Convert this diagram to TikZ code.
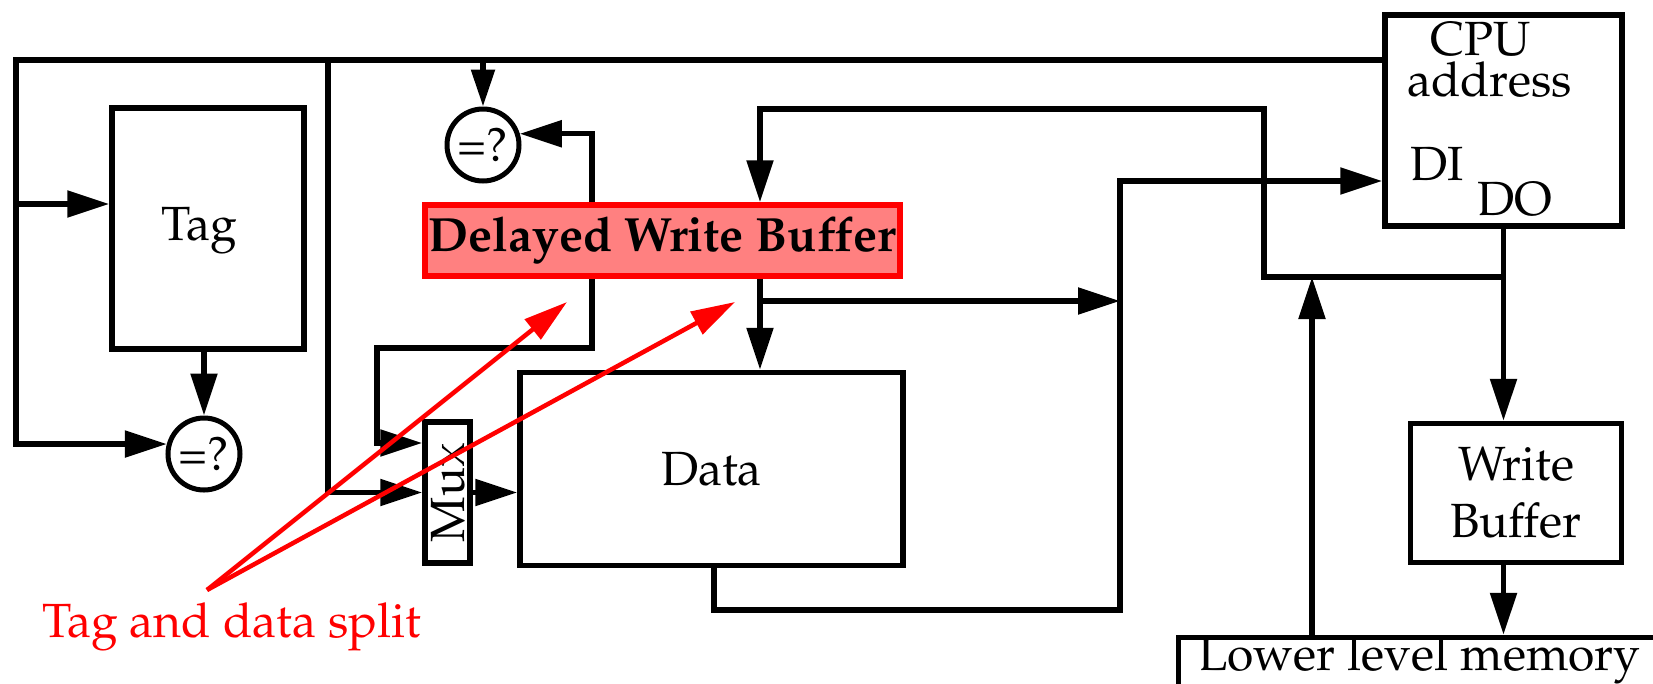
\documentclass[tikz,border=0pt]{standalone}
\usepackage[T1]{fontenc}
\usepackage{mathpazo}
\usepackage{graphicx}
\usetikzlibrary{arrows.meta}
\definecolor{bufpink}{HTML}{FF8080}
\definecolor{markred}{HTML}{FF0000}
\tikzset{
  wire/.style={line width=5.5pt, line join=miter},
  arr/.style={-{Triangle[length=42pt,width=26pt]}},
  blk/.style={draw, line width=5.5pt, inner sep=0pt},
  cmp/.style={draw, circle, line width=5pt, minimum size=72pt, inner sep=0pt},
  txt/.style={inner sep=0pt, anchor=base west},
  note/.style={draw=markred, line width=4.5pt, -{Triangle[length=44pt,width=25pt]}},
}
\begin{document}
\begin{tikzpicture}[x=1pt, y=-1pt, every node/.style={font=\fontsize{48}{57}\selectfont}]
\useasboundingbox (0,0) rectangle (1653,683);
\clip (0,0) rectangle (1653,683);

% blocks
\node[blk, minimum width=192pt, minimum height=241pt] (Tag) at (208,228.5) {};
\node[txt] (tagtext) at (161,240) {Tag};
\node[cmp] (c1) at (204,454) {=?};
\node[cmp] (c2) at (483,145) {=?};
\node[blk, draw=markred, fill=bufpink, minimum width=475pt, minimum height=71pt,
      font=\fontsize{48}{57}\selectfont\bfseries] (DWB) at (662.5,240.5) {Delayed Write Buffer};
\node[blk, minimum width=45pt, minimum height=141pt] (Mux) at (447.5,492.5) {\rotatebox{90}{Mux}};
\node[blk, minimum width=383pt, minimum height=193pt] (Data) at (711.5,469) {Data};
\node[blk, minimum width=237pt, minimum height=211pt] (CPU) at (1503.5,120.5) {};
\node[txt] (cpu1) at (1430,55) {CPU};
\node[txt] (cpu2) at (1407,96) {address};
\node[txt] (di) at (1410,180) {DI};
\node[txt] (do) at (1477,215) {DO};
\node[blk, minimum width=211pt, minimum height=139pt, align=center] (WB) at (1516,493) {Write\\Buffer};
\node[blk, minimum width=521pt, minimum height=52.5pt] (LLM) at (1439,663.75) {};
\node[txt] (llmtext) at (1198,670) {Lower level memory};

% wiring points
\coordinate (tl) at (16,60);
\coordinate (tagin) at (16,204);
\coordinate (v2) at (328,60);
\coordinate (xa) at (592,0);
\coordinate (lp) at (377,348);
\coordinate (xb) at (760,0);
\coordinate (xc) at (714,0);
\coordinate (bus) at (1120,301);
\coordinate (lb) at (1120,610);
\coordinate (tp) at (1264,109);
\coordinate (jn) at (CPU.south |- 0,277);
\coordinate (up) at (1312,277);

% address bus and tag compare
\draw[wire, arr] (CPU.west |- tl) -- (tl) |- (c1.165);
\draw[wire, arr] (tagin) -- (tagin -| Tag.west);
\draw[wire, arr] (c1.north |- Tag.south) -- (c1.north);
\draw[wire, arr] (v2) |- (Mux.west);
\draw[wire, -{Triangle[length=37pt,width=23pt]}] (c2.north |- tl) -- (c2.north);

% delayed write buffer paths
\draw[wire, arr] (xa |- DWB.north) |- (c2.17);
\draw[wire, arr] (xa |- DWB.south) |- (lp) |- (Mux.west |- 0,443);
\draw[wire, arr] (Mux.east) -- (Data.west |- Mux.east);
\draw[wire, arr] (xb |- DWB.south) -- (xb |- Data.north);
\draw[wire, arr] (xb |- bus) -- (bus);
\draw[wire, arr] (xc |- Data.south) |- (lb) |- (CPU.west |- 0,181);
\draw[wire, arr] (jn) -| (tp) -| (xb |- DWB.north);

% write buffer and memory
\draw[wire, arr] (CPU.south) -- (CPU.south |- WB.north);
\draw[wire, arr] (CPU.south |- WB.south) -- (CPU.south |- LLM.north);
\draw[wire, arr] (up |- LLM.north) -- (up);

% annotation
\coordinate (rs) at (207,590);
\coordinate (rt1) at (567,302);
\coordinate (rt2) at (735,302);
\draw[note] (rs) -- (rt1);
\draw[note] (rs) -- (rt2);
\node[txt, text=markred] (split) at (42,637) {Tag and data split};
\end{tikzpicture}
\end{document}
